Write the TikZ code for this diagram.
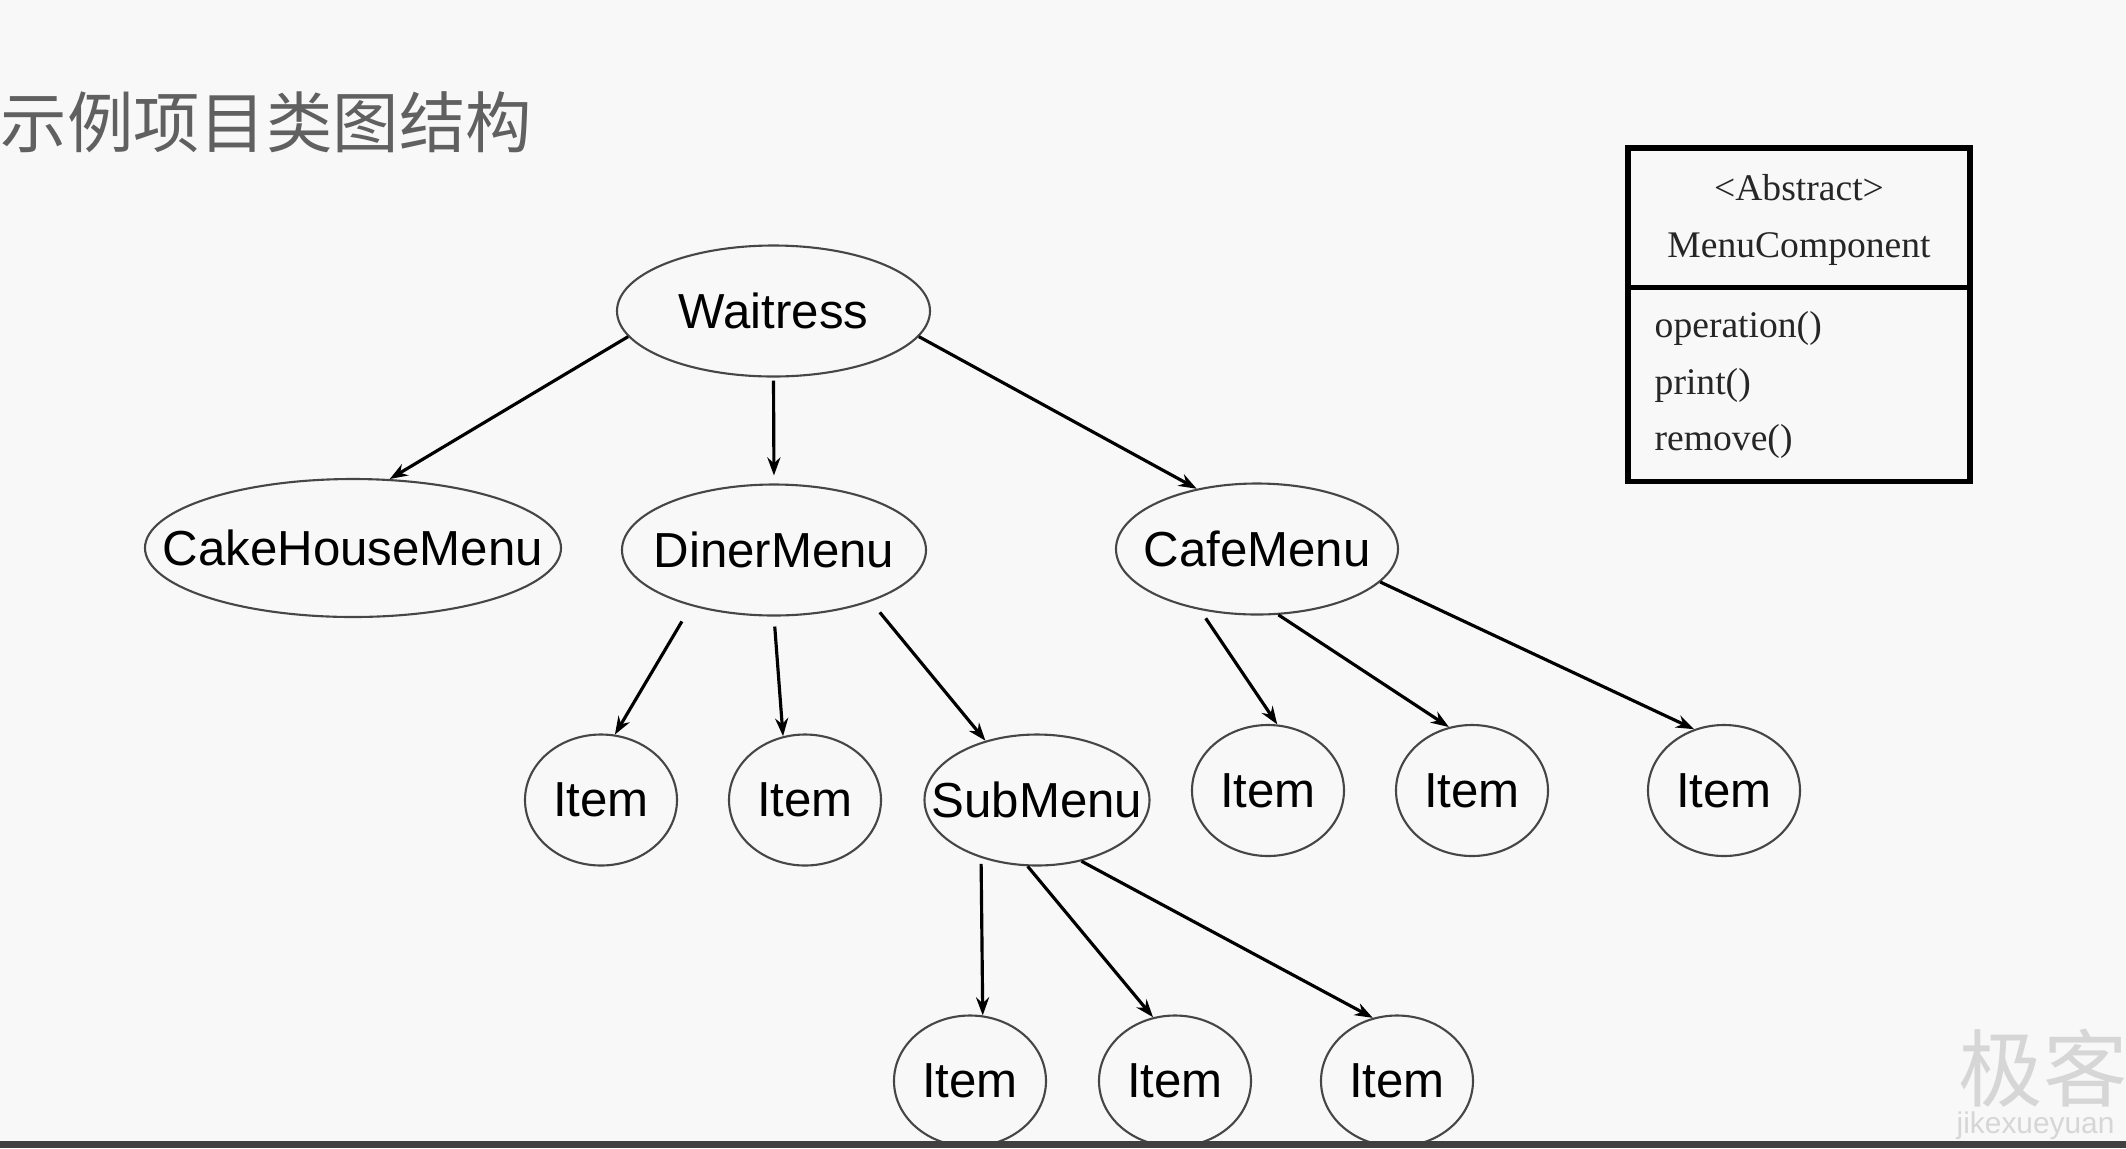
\documentclass[tikz,border=0pt]{standalone}
\usepackage{fontspec}
\setmainfont{Liberation Serif}
\setsansfont{Liberation Sans}
\newfontfamily\cjkfont{Noto Sans CJK SC}
\definecolor{pagegray}{RGB}{248, 248, 248}
\definecolor{titlegray}{RGB}{96, 96, 96}
\definecolor{edgegray}{RGB}{70, 70, 70}
\definecolor{bargray}{RGB}{64, 64, 64}
\definecolor{markgray}{RGB}{214, 214, 214}
\usetikzlibrary{shapes, arrows.meta, positioning, calc}

\begin{document}
\begin{tikzpicture}[
    menu/.style={ellipse, draw=edgegray, line width=0.6pt, minimum height=1.31cm,
      inner xsep=-2cm, inner ysep=0pt, font=\sffamily\fontsize{14}{16}\selectfont},
    item/.style={menu, minimum width=1.52cm},
    link/.style={-{Stealth[length=1.8mm, width=1.3mm]}, line width=0.9pt},
    uml/.style={font=\fontsize{10.7}{16.2}\selectfont, text=black!85, inner sep=0pt}
  ]
  \useasboundingbox (0, 0) rectangle (21.26, -11.48);
  \fill[pagegray] (0, 0) rectangle (21.26, -11.48);

  % Title
  \node[anchor=west, inner sep=0pt, text=titlegray, font=\cjkfont\fontsize{18.9}{20}\selectfont] (title) at (0.0, -1.22) {示例项目类图结构};

  % Top level
  \node[menu, minimum width=3.13cm] (waitress) at (7.735, -3.11) {Waitress};

  % Menus
  \node[menu, minimum width=4.16cm, minimum height=1.38cm] (cake) at (3.53, -5.48) {CakeHouseMenu};
  \node[menu, minimum width=3.04cm] (diner) at (7.74, -5.50) {DinerMenu};
  \node[menu, minimum width=2.82cm] (cafe) at (12.57, -5.49) {CafeMenu};

  % Children of DinerMenu
  \node[item] (dinerA) at (6.01, -8.00) {Item};
  \node[item] (dinerB) at (8.05, -8.00) {Item};
  \node[menu, minimum width=2.25cm] (sub) at (10.37, -8.00) {SubMenu};

  % Children of CafeMenu
  \node[item] (cafeA) at (12.68, -7.905) {Item};
  \node[item] (cafeB) at (14.72, -7.905) {Item};
  \node[item] (cafeC) at (17.24, -7.905) {Item};

  % Children of SubMenu
  \node[item] (subA) at (9.70, -10.81) {Item};
  \node[item] (subB) at (11.75, -10.81) {Item};
  \node[item] (subC) at (13.97, -10.81) {Item};

  % Arrows
  \draw[link] (waitress.190) -- (cake.62);
  \draw[link, shorten <=0.3mm, shorten >=0.8mm] (waitress.south) -- (diner.north);
  \draw[link] (waitress.350) -- (cafe.135);
  \draw[link, shorten <=1.8mm] (diner.214) -- (dinerA.78);
  \draw[link, shorten <=1mm] (diner.south) -- (dinerB.109);
  \draw[link, shorten <=1.4mm] (diner.332) -- (sub.131);
  \draw[link, shorten <=1mm] (cafe.227) -- (cafeA.82);
  \draw[link] (cafe.288) -- (cafeB.110);
  \draw[link] (cafe.345) -- (cafeC.116);
  \draw[link, shorten <=0.6mm] (sub.226) -- (subA.79);
  \draw[link] (sub.262) -- (subB.109);
  \draw[link] (sub.306) -- (subC.111);

  % Class box
  \node[draw=black, line width=1.6pt, minimum width=3.42cm, minimum height=3.335cm, inner sep=0pt] (mcbox) at (17.99, -3.146) {};
  \draw[line width=1.6pt] (mcbox.west |- 0,-2.874) -- (mcbox.east |- 0,-2.874);
  \node[uml, align=center] (mchead) at (17.99, -2.195) {<Abstract>\\MenuComponent};
  \node[uml, align=left, anchor=west] (mcops) at (16.54, -3.85) {operation()\\print()\\remove()};

  % Watermark
  \begin{scope}
    \clip (0, 0) rectangle (21.26, -11.41);
    \node[anchor=west, inner sep=0pt, text=markgray, font=\cjkfont\fontsize{24}{26}\selectfont] (mark) at (19.58, -10.68) {极客};
    \node[anchor=west, inner sep=0pt, text=markgray, font=\sffamily\fontsize{8.5}{10}\selectfont] (markurl) at (19.56, -11.26) {jikexueyuan};
  \end{scope}

  % Bottom bar
  \fill[bargray] (0, -11.41) rectangle (21.26, -11.48);
\end{tikzpicture}
\end{document}
